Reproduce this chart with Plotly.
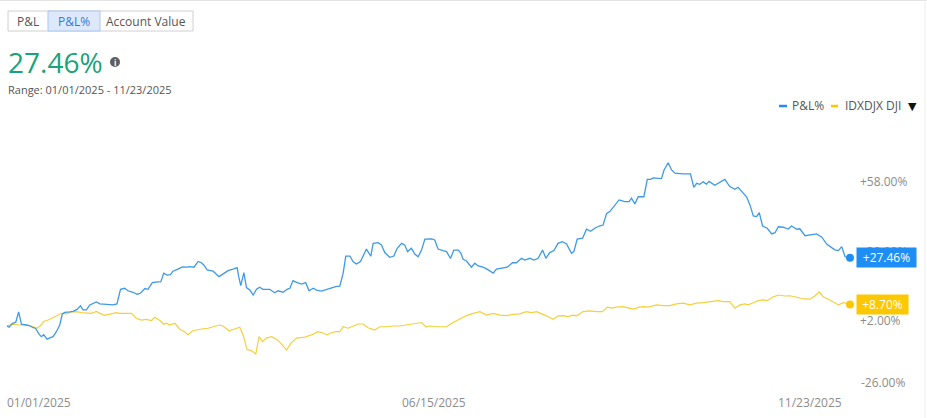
import pandas as pd
import plotly.graph_objects as go

# ---------------- data ----------------
start_date = "2025-01-01"
end_date = "2025-11-23"

pnl_days = [0, 0.8, 2.1, 3.4, 4.5, 5.6, 7.5, 8.8, 10.1, 11.0, 12.4, 13.3, 14.2, 15.5, 16.8, 17.8,
            19.1, 20.4, 21.4, 22.3, 24.3, 25.5, 27.1, 28.4, 29.4, 30.7, 32.0, 33.3, 34.6, 35.9,
            38.4, 41.0, 42.5, 43.9, 45.5, 46.8, 48.7, 50.3, 51.6, 53.3, 54.5, 56.2, 58.4, 59.5,
            60.6, 61.9, 63.2, 64.2, 66.1, 67.8, 69.4, 70.7, 72.3, 73.9, 75.2, 76.1, 77.4, 79.7,
            82.0, 83.5, 85.5, 87.4, 89.0, 89.6, 90.4, 91.6, 92.6, 93.9, 95.2, 96.5, 97.7, 99.0,
            101.6, 103.5, 104.8, 106.8, 108.3, 109.4, 110.6, 112.2, 113.9, 115.5, 116.8, 118.4,
            119.7, 121.6, 123.5, 125.5, 127.1, 128.7, 130.0, 131.0, 132.6, 133.8, 135.1, 136.7,
            137.7, 139.0, 140.0, 140.7, 141.6, 143.5, 144.8, 146.1, 148.0, 149.6, 150.9, 152.6,
            153.8, 154.9, 156.4, 157.7, 159.0, 160.3, 161.6, 163.2, 164.2, 165.4, 166.7, 168.6,
            170.0, 171.5, 172.8, 174.5, 175.4, 176.4, 177.7, 179.6, 180.9, 182.2, 184.1, 186.1,
            188.0, 189.3, 191.2, 193.4, 195.5, 197.0, 199.0, 200.2, 202.2, 203.8, 205.4, 207.1,
            208.4, 209.9, 211.5, 213.1, 214.8, 216.4, 218.3, 219.2, 220.5, 222.6, 224.1, 225.7,
            227.3, 229.0, 230.5, 231.9, 233.1, 235.1, 236.7, 238.9, 240.6, 241.5, 242.8, 244.1,
            246.3, 247.6, 248.9, 249.9, 253.1, 254.1, 255.7, 257.0, 258.3, 261.5, 264.3, 265.6,
            266.7, 267.9, 269.2, 270.5, 271.5, 273.7, 275.7, 277.6, 279.5, 281.5, 282.7, 284.7,
            286.0, 287.3, 288.6, 289.9, 290.9, 292.2, 294.0, 295.7, 297.0, 298.3, 300.2, 302.1,
            303.4, 305.4, 306.6, 308.6, 311.1, 313.1, 315.1, 317.0, 318.9, 320.2, 321.5, 322.8,
            324.1, 326]
pnl_pct = [0.0, -0.5, 1.1, 1.5, 5.7, 0.7, 0.4, 0.1, -0.7, -0.9, -3.3, -4.3, -3.5, -5.3, -4.7, -4.3,
           -2.3, 0.4, 4.9, 5.5, 5.7, 5.9, 6.7, 8.1, 6.5, 6.5, 8.5, 9.2, 9.7, 8.9,
           8.6, 8.5, 8.9, 14.8, 15.2, 14.2, 13.6, 12.8, 13.2, 15.1, 14.8, 17.5, 17.8, 17.9,
           21.3, 20.5, 20.7, 22.1, 22.9, 23.8, 23.7, 23.9, 23.7, 26.0, 25.5, 24.6, 22.6, 22.1,
           19.9, 21.0, 22.3, 22.9, 23.5, 19.9, 16.3, 21.5, 15.5, 14.5, 12.5, 14.8, 15.6, 14.8,
           14.8, 13.4, 14.2, 13.6, 14.8, 15.2, 18.3, 17.5, 16.9, 17.5, 14.2, 15.2,
           14.5, 14.1, 14.8, 15.6, 15.9, 16.1, 21.3, 28.2, 28.2, 26.0, 25.0, 26.0,
           28.0, 31.0, 29.3, 28.2, 33.3, 33.6, 32.7, 29.6, 27.7, 28.2, 31.3, 33.3,
           32.7, 30.0, 31.3, 29.0, 27.9, 30.6, 35.0, 35.0, 35.1, 34.7, 31.0, 30.4,
           30.0, 27.2, 30.6, 30.6, 29.6, 26.9, 26.2, 23.7, 25.3, 24.2, 23.7, 22.6,
           21.3, 22.9, 23.3, 23.7, 25.5, 25.5, 27.3, 26.6, 27.3, 26.6, 27.3, 30.6,
           27.3, 29.6, 30.4, 33.3, 34.0, 33.1, 29.3, 30.0, 35.0, 35.4, 39.0, 38.2,
           39.4, 40.3, 40.7, 45.4, 46.1, 48.8, 50.8, 50.1, 50.1, 51.5, 49.2, 52.1,
           52.1, 59.1, 59.1, 59.7, 59.4, 62.9, 65.8, 62.9, 61.6, 61.3, 61.3, 55.9,
           57.5, 57.1, 58.1, 57.2, 58.3, 56.7, 57.8, 59.1, 56.2, 55.1, 55.9, 53.5,
           52.1, 48.8, 44.4, 44.1, 45.7, 40.3, 39.4, 37.1, 37.6, 40.0, 39.8, 39.1,
           40.3, 39.0, 39.2, 36.4, 36.7, 37.1, 35.8, 33.0, 31.6, 30.7, 30.4, 32.0,
           27.9, 27.46]

dji_days = [0, 2.3, 4.9, 7.5, 9.4, 11.6, 12.9, 14.2, 15.9, 17.6, 19.3, 21.0, 23.0, 24.9, 26.8,
            28.8, 30.7, 32.6, 34.6, 35.9, 37.8, 39.1, 41.0, 42.3, 43.6, 46.2, 48.1, 50.1, 52.0,
            53.9, 55.9, 57.1, 59.1, 60.6, 61.7, 62.9, 64.9, 66.8, 68.7, 70.0, 71.7, 73.3, 74.3,
            75.8, 77.8, 80.3, 82.0, 83.5, 85.9, 87.7, 90.0, 91.3, 92.8, 94.5, 96.2, 97.5, 98.8,
            100.3, 102.3, 104.2, 106.1, 108.1, 110.0, 111.9, 115.2, 117.7, 120.3, 122.0, 123.8,
            125.5, 127.1, 128.7, 130.0, 131.9, 133.8, 135.8, 137.7, 139.6, 142.2, 144.2, 146.8,
            149.3, 151.9, 153.8, 155.1, 157.7, 160.3, 162.0, 163.5, 166.1, 170.0, 172.5, 175.1,
            177.7, 180.3, 182.9, 185.4, 188.0, 190.6, 193.2, 195.7, 198.3, 200.9, 202.8, 204.8,
            206.7, 208.6, 211.2, 213.2, 215.1, 217.0, 218.7, 220.3, 222.8, 225.4, 228.0, 230.3,
            232.1, 233.8, 235.7, 238.3, 240.2, 242.2, 244.5, 246.0, 248.0, 251.2, 253.8, 256.3,
            258.9, 261.5, 264.1, 266.7, 269.2, 272.5, 275.0, 277.0, 279.5, 281.5, 283.4, 285.4,
            286.6, 288.6, 290.5, 292.4, 294.0, 296.3, 298.6, 300.8, 302.8, 305.4, 307.9, 310.5,
            312.4, 314.1, 315.6, 317.6, 320.2, 321.5, 323.4, 326]
dji_pct = [0.0, 0.7, 0.4, 0.4, 0.0, -0.9, 0.1, 1.8, 2.4, 3.1, 4.1, 5.1, 4.9, 5.7, 5.8,
           5.4, 5.1, 5.1, 5.9, 5.1, 4.3, 4.7, 5.1, 5.4, 5.1, 5.1, 5.1, 3.0, 2.4,
           2.7, 2.2, 3.5, 2.2, 0.7, 1.1, 0.4, 1.1, -1.3, -2.3, -3.5, -2.0, -1.6, -1.3,
           -1.1, -0.9, -0.3, 0.4, 0.0, -1.9, -1.3, -0.5, -3.6, -9.4, -9.9, -11.3, -4.3, -6.3,
           -4.9, -4.3, -5.3, -7.2, -9.7, -6.7, -4.9, -4.5, -3.6, -2.3, -2.7, -3.6,
           -2.7, -2.3, -2.3, -0.3, -0.9, 0.0, 0.8, 0.8, -0.7, -1.6, -0.3, -0.3,
           0.0, 0.0, 0.3, 0.8, 1.1, 1.4, -0.3, 0.0, -0.3, -0.3, 1.4, 2.7,
           4.2, 5.1, 5.8, 4.4, 5.1, 4.4, 4.2, 4.7, 4.9, 5.8, 5.4, 5.8,
           5.1, 4.1, 2.7, 4.1, 4.2, 3.8, 4.4, 4.1, 5.8, 6.1, 5.8, 5.8,
           7.6, 7.2, 7.6, 7.8, 7.3, 6.8, 7.6, 7.8, 7.6, 8.5, 8.2, 8.2,
           8.9, 9.2, 8.5, 9.2, 9.4, 9.8, 10.2, 9.8, 9.8, 7.2, 8.5, 8.9,
           8.5, 9.4, 10.2, 10.5, 10.2, 11.8, 12.5, 12.1, 12.2, 11.6, 10.9, 10.8,
           12.1, 13.8, 11.8, 10.8, 9.2, 8.5, 9.4, 8.70]

y_tick_vals = [58, 30, 2]
y_tick_text = ["+58.00%", "+30.00%", "+2.00%"]
y_bottom_tick = -26
y_bottom_text = "-26.00%"
x_tick_labels = ["01/01/2025", "06/15/2025", "11/23/2025"]
x_tick_dates = ["2025-01-01", "2025-06-15", "2025-11-23"]

headline = "27.46%"
range_text = "Range: 01/01/2025 - 11/23/2025"
buttons = ["P&L", "P&L%", "Account Value"]
series_names = ["P&L%", "IDXDJX DJI"]

# ---------------- figure ----------------
FONT = "Open Sans"
W, H = 927, 418
L, R, T, B = 7, 77, 130, 27
PW, PH = W - L - R, H - T - B

def px(x):
    return (x - L) / PW

def py(y):
    return (H - B - y) / PH

base = pd.Timestamp(start_date)
pnl_x = base + pd.to_timedelta(pnl_days, unit="D")
dji_x = base + pd.to_timedelta(dji_days, unit="D")

BLUE_LINE = "#3f9ae6"
YEL_LINE = "#f5d03c"
BLUE = "#1e8ef5"
YEL = "#fec800"
TICK = "#8c8c8c"
TXT = "#555555"

fig = go.Figure()
fig.add_trace(go.Scatter(x=dji_x, y=dji_pct, mode="lines", name=series_names[1],
                         line=dict(color=YEL_LINE, width=1.2), hoverinfo="skip"))
fig.add_trace(go.Scatter(x=pnl_x, y=pnl_pct, mode="lines", name=series_names[0],
                         line=dict(color=BLUE_LINE, width=1.3), hoverinfo="skip"))
fig.add_trace(go.Scatter(x=[pnl_x[-1], dji_x[-1]], y=[pnl_pct[-1], dji_pct[-1]], mode="markers",
                         marker=dict(color=[BLUE, YEL], size=8), cliponaxis=False,
                         hoverinfo="skip", showlegend=False))

ann = []
# x labels
for lab, d, anc, sh in zip(x_tick_labels, x_tick_dates, ["left", "center", "right"], [-2, 0, -6]):
    ann.append(dict(x=d, xref="x", y=0, yref="paper", yanchor="top", yshift=-1, xanchor=anc,
                    xshift=sh, text=lab, showarrow=False, font=dict(family=FONT, size=12, color=TICK)))
# bottom y label
ann.append(dict(x=1, xref="paper", xanchor="left", xshift=9, y=y_bottom_tick, yref="y",
                yanchor="bottom", yshift=-2, text=y_bottom_text, showarrow=False,
                font=dict(family=FONT, size=12, color=TICK)))
# end value labels
for val, col, w in [(pnl_pct[-1], BLUE, 55), (dji_pct[-1], YEL, 47)]:
    ann.append(dict(x=1, xref="paper", xanchor="left", xshift=6, y=val, yref="y", yanchor="middle",
                    text=f"+{val:.2f}%", showarrow=False, bgcolor=col, borderpad=2, width=w, height=15,
                    font=dict(family=FONT, size=12, color="white")))
# header
ann.append(dict(x=px(6), xref="paper", xanchor="left", y=py(62), yref="paper", yanchor="middle",
                text=headline, showarrow=False, font=dict(family=FONT, size=28, color="#1aa37a")))
ann.append(dict(x=px(115), xref="paper", xanchor="center", y=py(62), yref="paper", yanchor="middle",
                text="<b>i</b>", showarrow=False, font=dict(family=FONT, size=8, color="white")))
ann.append(dict(x=px(6), xref="paper", xanchor="left", y=py(89), yref="paper", yanchor="middle",
                text=range_text, showarrow=False, font=dict(family=FONT, size=11, color=TXT)))
# buttons
for lab, cx, col in zip(buttons, [28, 74, 146], [TXT, "#3479d4", TXT]):
    ann.append(dict(x=px(cx), xref="paper", xanchor="center", y=py(21), yref="paper", yanchor="middle",
                    text=lab, showarrow=False, font=dict(family=FONT, size=12, color=col)))
# legend
ann.append(dict(x=px(790), xref="paper", xanchor="left", y=py(106), yref="paper", yanchor="middle",
                text=series_names[0], showarrow=False, font=dict(family=FONT, size=12, color=TXT)))
ann.append(dict(x=px(843), xref="paper", xanchor="left", y=py(106), yref="paper", yanchor="middle",
                text=series_names[1], showarrow=False, font=dict(family=FONT, size=12, color=TXT)))
ann.append(dict(x=px(912), xref="paper", xanchor="center", y=py(107), yref="paper", yanchor="middle",
                text="▼", showarrow=False, font=dict(family="DejaVu Sans", size=11, color="#111111")))

shapes = [
    # outer button group
    dict(type="rect", xref="paper", yref="paper", x0=px(8), x1=px(193), y0=py(31), y1=py(11),
         line=dict(color="#d0d0d0", width=1), fillcolor="white", layer="below"),
    dict(type="rect", xref="paper", yref="paper", x0=px(48), x1=px(100), y0=py(31), y1=py(11),
         line=dict(color="#a9c7ef", width=1), fillcolor="#dde9fb", layer="below"),
    # info icon
    dict(type="circle", xref="paper", yref="paper", xsizemode="pixel", ysizemode="pixel",
         xanchor=px(115), yanchor=py(62), x0=-5, x1=5, y0=-5, y1=5,
         fillcolor="#5e5e5e", line=dict(width=0)),
    # legend dashes
    dict(type="line", xref="paper", yref="paper", x0=px(779), x1=px(787), y0=py(106), y1=py(106),
         line=dict(color=BLUE, width=2.5)),
    dict(type="line", xref="paper", yref="paper", x0=px(831), x1=px(838), y0=py(106), y1=py(106),
         line=dict(color=YEL, width=2.5)),
    # frame lines
    dict(type="line", xref="paper", yref="paper", x0=px(0), x1=px(W), y0=py(0.5), y1=py(0.5),
         line=dict(color="#e4e4e4", width=1)),
    dict(type="line", xref="paper", yref="paper", x0=px(925), x1=px(925), y0=py(0), y1=py(H),
         line=dict(color="#eeeeee", width=1)),
]

fig.update_layout(
    width=W, height=H, margin=dict(l=L, r=R, t=T, b=B, pad=0),
    paper_bgcolor="white", plot_bgcolor="white", showlegend=False,
    font=dict(family=FONT, size=12, color=TXT),
    xaxis=dict(range=[start_date, end_date], showgrid=False, zeroline=False, showline=False,
               showticklabels=False, ticks="", fixedrange=True),
    yaxis=dict(range=[-26.2, 79.0], side="right", showgrid=False, zeroline=False, showline=False,
               tickmode="array", tickvals=y_tick_vals, ticktext=y_tick_text, ticks="",
               ticklabelstandoff=9, tickfont=dict(family=FONT, size=12, color=TICK), fixedrange=True),
    annotations=ann, shapes=shapes,
)

fig.write_html("out.html", config={"displayModeBar": False},
               post_script="document.body.style.margin='0';document.body.style.overflow='hidden';")
